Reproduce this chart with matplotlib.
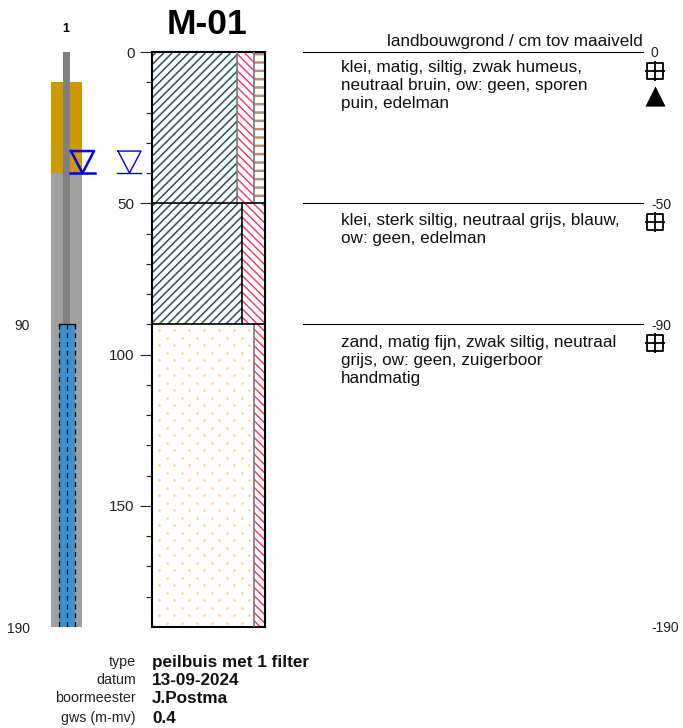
import numpy as np
import matplotlib
matplotlib.use("Agg")
import matplotlib.pyplot as plt

W, H = 683, 728
plt.rcParams['font.family'] = ['Liberation Sans', 'DejaVu Sans']

# layers, depth in cm
layer_top = [0, 50, 90]
layer_bottom = [50, 90, 190]
clay_pct = [75, 80, 0]
sand_pct = [0, 0, 90]
silt_pct = [15, 20, 10]
humus_pct = [10, 0, 0]
layer_text = [
    "klei, matig, siltig, zwak humeus,\nneutraal bruin, ow: geen, sporen\npuin, edelman",
    "klei, sterk siltig, neutraal grijs, blauw,\now: geen, edelman",
    "zand, matig fijn, zwak siltig, neutraal\ngrijs, ow: geen, zuigerboor\nhandmatig",
]
level_labels = ["0", "-50", "-90", "-190"]
level_depths = [0, 50, 90, 190]

# well construction
tube_bottom = 90
filter_top = 90
filter_bottom = 190
seal_top = 10
seal_bottom = 40
gravel_bottom = 190
water_depth = 40
sample_depths = [6.2, 56.2, 96.2]
water_sample_depth = 14.5

footer_keys = ["type", "datum", "boormeester", "gws (m-mv)"]
footer_vals = ["peilbuis met 1 filter", "13-09-2024", "J.Postma", "0.4"]

PX_PER_CM = 575 / 190
Y0 = 52


def to_depth(py):
    return (py - Y0) / PX_PER_CM


fig = plt.figure(figsize=(W / 100, H / 100), dpi=100)

# full figure axes: x in pixels, y in cm depth
bg = fig.add_axes([0, 0, 1, 1])
bg.set_xlim(0, W)
bg.set_ylim(to_depth(H), to_depth(0))
bg.axis('off')

# soil column
ax = fig.add_axes([152 / W, 1 - 627 / H, 113 / W, 575 / H])
ax.set_xlim(0, 100)
ax.set_ylim(190, 0)
ax.set_xticks([])
ax.set_yticks([0, 50, 100, 150])
ax.set_yticks(np.arange(10, 190, 10), minor=True)
ax.tick_params(axis='y', which='major', length=8.6, width=0.8, labelsize=11, pad=4, color='#222222',
               labelcolor='#222222')
ax.tick_params(axis='y', which='minor', length=4.3, width=0.8, color='#222222')
for s in ax.spines.values():
    s.set_linewidth(1.5)


def draw_part(i, left, pct, color, hatch, hatch_lw):
    if pct == 0:
        return
    bars = ax.barh((layer_top[i] + layer_bottom[i]) / 2, pct, left=left,
                   height=layer_bottom[i] - layer_top[i], facecolor='white',
                   edgecolor=color, hatch=hatch, linewidth=0)
    bars[0].set_hatch_linewidth(hatch_lw)


for i in range(3):
    left = 0
    draw_part(i, left, clay_pct[i], '#2a5558', '////', 1.1)
    left += clay_pct[i]
    if sand_pct[i] > 0:
        # dotted sand texture, staggered rows
        rows = np.arange(to_depth(330), layer_bottom[i], 7.5 / PX_PER_CM)
        for k, r in enumerate(rows):
            start = 167 if k % 2 else 159
            xs = (np.arange(start, 152 + 113 * sand_pct[i] / 100 - 2, 15) - 152) / 1.13
            ax.scatter(xs, [r] * len(xs), s=4, color='#ffd9a3', linewidths=0, zorder=2)
        left += sand_pct[i]
    edge_col = 'black' if i == 1 else '#777777'
    ax.plot([left, left], [layer_top[i], layer_bottom[i]], color=edge_col, lw=1.2, zorder=4)
    draw_part(i, left, silt_pct[i], '#ff2f66', '\\\\\\\\', 1.0)
    left += silt_pct[i]
    if humus_pct[i] > 0:
        ax.plot([left, left], [layer_top[i], layer_bottom[i]], color='#777777', lw=1.2, zorder=4)
        draw_part(i, left, humus_pct[i], '#b8946c', '--', 1.8)
for d in layer_top[1:]:
    ax.axhline(d, color='black', lw=1.2, zorder=5)

# well sketch
bg.fill_between([51, 82], seal_bottom, gravel_bottom, color='#a0a0a0', lw=0)
bg.fill_between([51, 82], seal_top, seal_bottom, color='#cc9900', lw=0)
bg.fill_between([63, 70], 0, tube_bottom, color='#808080', lw=0)
bg.fill_between([59, 75], filter_top, filter_bottom, color='#3d8fd1', lw=0)
bg.plot([59, 75], [filter_top, filter_top], color='black', lw=0.9)
for x in [59, 67, 75]:
    bg.plot([x, x], [filter_top, filter_bottom], color='black', lw=0.9, ls=(0, (4, 3)))

# water level symbols
top = water_depth - 22 / PX_PER_CM
bg.plot([71, 94, 82.5, 71], [top, top, water_depth, top], color='#0000ee', lw=1.8)
bg.plot([70, 95], [water_depth, water_depth], color='#0000ee', lw=1.8)
bg.plot([118, 141, 129.5, 118], [top, top, water_depth, top], color='#0000ee', lw=1)
bg.plot([117, 141], [water_depth, water_depth], color='#0000ee', lw=1)

# layer boundaries, descriptions, right hand depth labels
for d in level_depths[:3]:
    bg.plot([303, 643], [d, d], color='black', lw=0.8)
for d, py, txt in zip(layer_top, [60, 213, 335], layer_text):
    bg.text(341, to_depth(py), txt, fontsize=12.3, va='top', ha='left',
            linespacing=1.235, color='#111111')
label_x = [654, 661, 661, 665]
for x, d, lab in zip(label_x, level_depths, level_labels):
    bg.text(x, d + 0.4, lab, fontsize=10, ha='center', va='center', color='#222222')

bg.scatter([655] * 3, sample_depths, marker='s', s=135, facecolor='none', edgecolor='black', lw=1.3)
bg.scatter([655] * 3, sample_depths, marker='+', s=220, color='black', lw=1.3)
bg.scatter([655], [water_sample_depth], marker='^', s=210, color='black', lw=0)

# texts
bg.text(643, to_depth(41), "landbouwgrond / cm tov maaiveld", fontsize=12.3, ha='right', va='center',
        color='#111111')
bg.text(207, to_depth(24), "M-01", fontsize=25.5, fontweight='bold', ha='center', va='center')
bg.text(66, to_depth(29), "1", fontsize=9, fontweight='bold', ha='center', va='center')
bg.text(30, 90.5, "90", fontsize=10, ha='right', va='center', color='#222222')
bg.text(30, 190.7, "190", fontsize=10, ha='right', va='center', color='#222222')

footer_y = [662, 680, 698, 718]
for py, key, val in zip(footer_y, footer_keys, footer_vals):
    bg.text(136, to_depth(py), key, fontsize=10.3, ha='right', va='center', color='#222222')
    bg.text(152, to_depth(py), val, fontsize=12.3, fontweight='bold', ha='left', va='center', color='#111111')

fig.savefig("out.png", dpi=100)
